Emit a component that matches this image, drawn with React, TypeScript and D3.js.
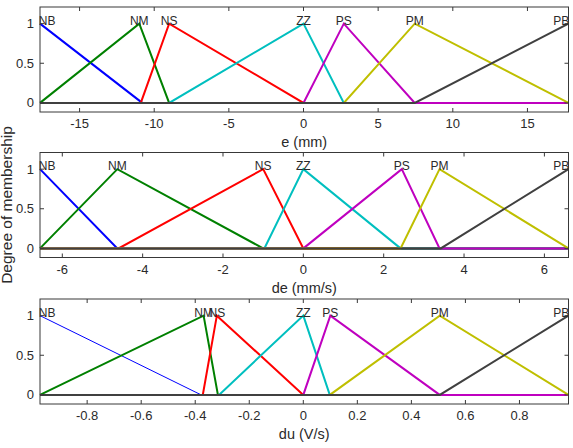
import React from 'react';
import * as d3 from 'd3';

// membership function names (same for all three variables)
const mfNames = ['NB', 'NM', 'NS', 'ZZ', 'PS', 'PM', 'PB'];
const mfColors = ['#0000ff', '#008000', '#ff0000', '#00bfbf', '#bf00bf', '#bfbf00', '#404040'];

// e (mm)
const eRange = [-17.65, 17.75];
const eParams = [
  [-17.65, -17.65, -10.8],
  [-17.65, -11, -9],
  [-10.9, -9, 0],
  [-9, 0, 2.7],
  [0, 2.7, 7.45],
  [2.7, 7.45, 17.75],
  [7.45, 17.75, 17.75],
];
const eTicks = [-15, -10, -5, 0, 5, 10, 15];

// de (mm/s)
const deRange = [-6.555, 6.6];
const deParams = [
  [-6.555, -6.555, -4.63],
  [-6.555, -4.63, -1],
  [-4.6, -1, 0],
  [-0.97, 0, 2.42],
  [0, 2.45, 3.39],
  [2.42, 3.39, 6.6],
  [3.42, 6.6, 6.6],
];
const deTicks = [-6, -4, -2, 0, 2, 4, 6];

// du (V/s)
const duRange = [-0.9745, 0.9815];
const duParams = [
  [-0.9745, -0.9745, -0.378],
  [-0.9745, -0.369, -0.316],
  [-0.372, -0.32, 0],
  [-0.312, 0, 0.098],
  [0, 0.1, 0.505],
  [0.098, 0.505, 0.9815],
  [0.505, 0.9815, 0.9815],
];
const duTicks = [-0.8, -0.6, -0.4, -0.2, 0, 0.2, 0.4, 0.6, 0.8];

const yTicks = [0, 0.5, 1];

const W = 573;
const H = 448;
const left = 40;
const right = 568.5;
const panelH = 105;
const font = '"Liberation Sans", Arial, Helvetica, sans-serif';
const axisColor = '#383838';
const textColor = '#2a2a2a';

const trimf = (x: number, [a, b, c]: number[]) => {
  if (x < a || x > c) return 0;
  if (x <= b) return b === a ? 1 : (x - a) / (b - a);
  return c === b ? 1 : (c - x) / (c - b);
};

const Panel = ({ top, range, params, ticks, label, thinFirst }: any) => {
  const x = d3.scaleLinear().domain(range).range([left, right]);
  const y = d3.scaleLinear().domain([-0.115, 1.21]).range([top + panelH, top]);
  const line = d3.line<number[]>().x(d => x(d[0])).y(d => y(d[1]));
  const bottom = top + panelH;
  const fmt = (v: number) => (Math.abs(v) < 1e-9 ? '0' : String(+v.toFixed(2)));

  return (
    <g>
      {params.map((p: number[], i: number) => {
        const xs = [range[0], p[0], p[1], p[2], range[1]];
        const pts = xs.map(v => [v, trimf(v, p)]);
        return (
          <path
            key={i}
            d={line(pts) || ''}
            fill="none"
            stroke={mfColors[i]}
            strokeWidth={thinFirst && i === 0 ? 1 : 2}
            strokeLinejoin="miter"
          />
        );
      })}
      {params.map((p: number[], i: number) => {
        const w = mfNames[i].length * 8.2;
        let cx = x(p[1]);
        cx = Math.max(left - 1 + w / 2, Math.min(right + 1 - w / 2, cx));
        return (
          <text key={'l' + i} x={cx} y={y(1) + 1} textAnchor="middle" fontSize={12}
            fontFamily={font} fill={textColor}>
            {mfNames[i]}
          </text>
        );
      })}
      <rect x={left} y={top} width={right - left} height={panelH} fill="none" stroke={axisColor} strokeWidth={1} />
      {ticks.map((t: number) => (
        <g key={'x' + t}>
          <line x1={x(t)} x2={x(t)} y1={bottom} y2={bottom - 4} stroke={axisColor} />
          <line x1={x(t)} x2={x(t)} y1={top} y2={top + 4} stroke={axisColor} />
          <text x={x(t)} y={bottom + 16} textAnchor="middle" fontSize={13} fontFamily={font} fill={textColor}>
            {fmt(t)}
          </text>
        </g>
      ))}
      {yTicks.map(t => (
        <g key={'y' + t}>
          <line x1={left} x2={left + 4} y1={y(t)} y2={y(t)} stroke={axisColor} />
          <line x1={right} x2={right - 4} y1={y(t)} y2={y(t)} stroke={axisColor} />
          <text x={34} y={y(t)} dy="0.35em" textAnchor="end" fontSize={13} fontFamily={font} fill={textColor}>
            {fmt(t)}
          </text>
        </g>
      ))}
      <text x={(left + right) / 2} y={bottom + 35} textAnchor="middle" fontSize={14.5} fontFamily={font} fill={textColor}>
        {label}
      </text>
    </g>
  );
};

export default function App() {
  return (
    <svg width={W} height={H} style={{ position: 'absolute', left: 0, top: 0, background: '#fff' }}>
      <rect width={W} height={H} fill="#fff" />
      <Panel top={7} range={eRange} params={eParams} ticks={eTicks} label="e (mm)" />
      <Panel top={152.5} range={deRange} params={deParams} ticks={deTicks} label="de (mm/s)" />
      <Panel top={299} range={duRange} params={duParams} ticks={duTicks} label="du (V/s)" thinFirst />
      <text transform="translate(12,205) rotate(-90)" textAnchor="middle" fontSize={15.5} fontFamily={font} fill={textColor}>
        Degree of membership
      </text>
    </svg>
  );
}
